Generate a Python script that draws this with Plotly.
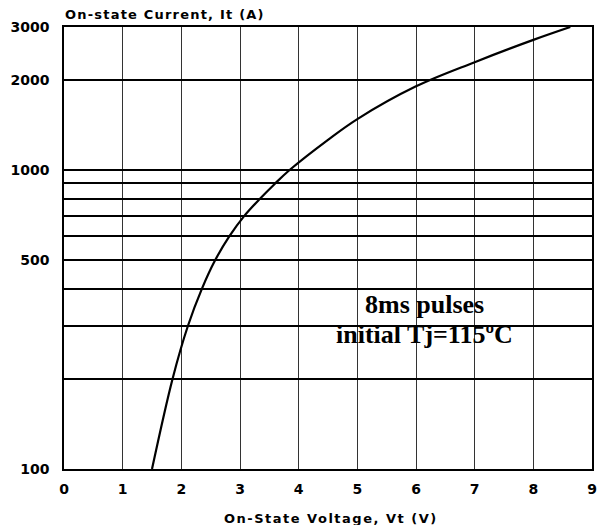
import plotly.graph_objects as go

# Data
voltage = [1.5, 1.85, 2.11, 2.35, 2.58, 2.82, 3.07, 3.34, 3.6, 3.85, 4.5, 5.0, 6.0, 7.0, 8.0, 8.63]
current = [100, 200, 300, 400, 500, 600, 700, 800, 900, 1000, 1259, 1477, 1900, 2289, 2717, 3000]

x_ticks = [0, 1, 2, 3, 4, 5, 6, 7, 8, 9]
y_grid = [100, 200, 300, 400, 500, 600, 700, 800, 900, 1000, 2000, 3000]
y_labels = ["100", "", "", "", "500", "", "", "", "", "1000", "2000", "3000"]

fig = go.Figure()
fig.add_trace(go.Scatter(
    x=voltage, y=current, mode="lines",
    line=dict(color="black", width=2.2, shape="spline", smoothing=1.0),
    hoverinfo="skip", showlegend=False,
))

tick_font = dict(family="DejaVu Sans", size=14, color="black", weight="bold")
label_font = dict(family="DejaVu Sans", size=13, color="black")

fig.update_layout(
    width=598, height=525,
    margin=dict(l=64, r=6, t=27, b=56, autoexpand=False),
    paper_bgcolor="white", plot_bgcolor="white",
    showlegend=False,
    xaxis=dict(
        range=[0, 9], tickvals=x_ticks, ticktext=[str(v) for v in x_ticks],
        showgrid=True, gridcolor="#333333", gridwidth=1,
        showline=True, linecolor="black", linewidth=1.5, mirror=True,
        zeroline=False, ticks="", tickfont=tick_font, automargin=False,
        ticklabelstandoff=6,
    ),
    yaxis=dict(
        type="log", range=[2, 3.4771],
        tickvals=y_grid, ticktext=y_labels,
        showgrid=True, gridcolor="black", gridwidth=1.6,
        showline=True, linecolor="black", linewidth=1.5, mirror=True,
        zeroline=False, ticks="", tickfont=tick_font, ticklabelstandoff=10,
        automargin=False,
    ),
    annotations=[
        dict(text='<span style="letter-spacing:1.2px"><b>On-state Current, It (A)</b></span>',
             xref="paper", yref="paper",
             x=0, y=1, xanchor="left", yanchor="bottom", yshift=3, xshift=-1, showarrow=False,
             font=label_font),
        dict(text='<span style="letter-spacing:1.5px"><b>On-State Voltage, Vt (V)</b></span>',
             xref="paper", yref="paper",
             x=0.5, y=0, xanchor="center", yanchor="top", yshift=-40, xshift=3, showarrow=False,
             font=label_font),
        dict(text="<b>8ms pulses</b>", x=6.15, y=2.55, xref="x", yref="y",
             showarrow=False, font=dict(family="Liberation Serif", size=26, color="black")),
        dict(text="<b>initial Tj=115ºC</b>", x=6.15, y=2.45, xref="x", yref="y",
             showarrow=False, font=dict(family="Liberation Serif", size=26, color="black")),
    ],
)

fig.write_html("out.html", config={"displayModeBar": False},
               post_script="document.body.style.margin='0px';")
